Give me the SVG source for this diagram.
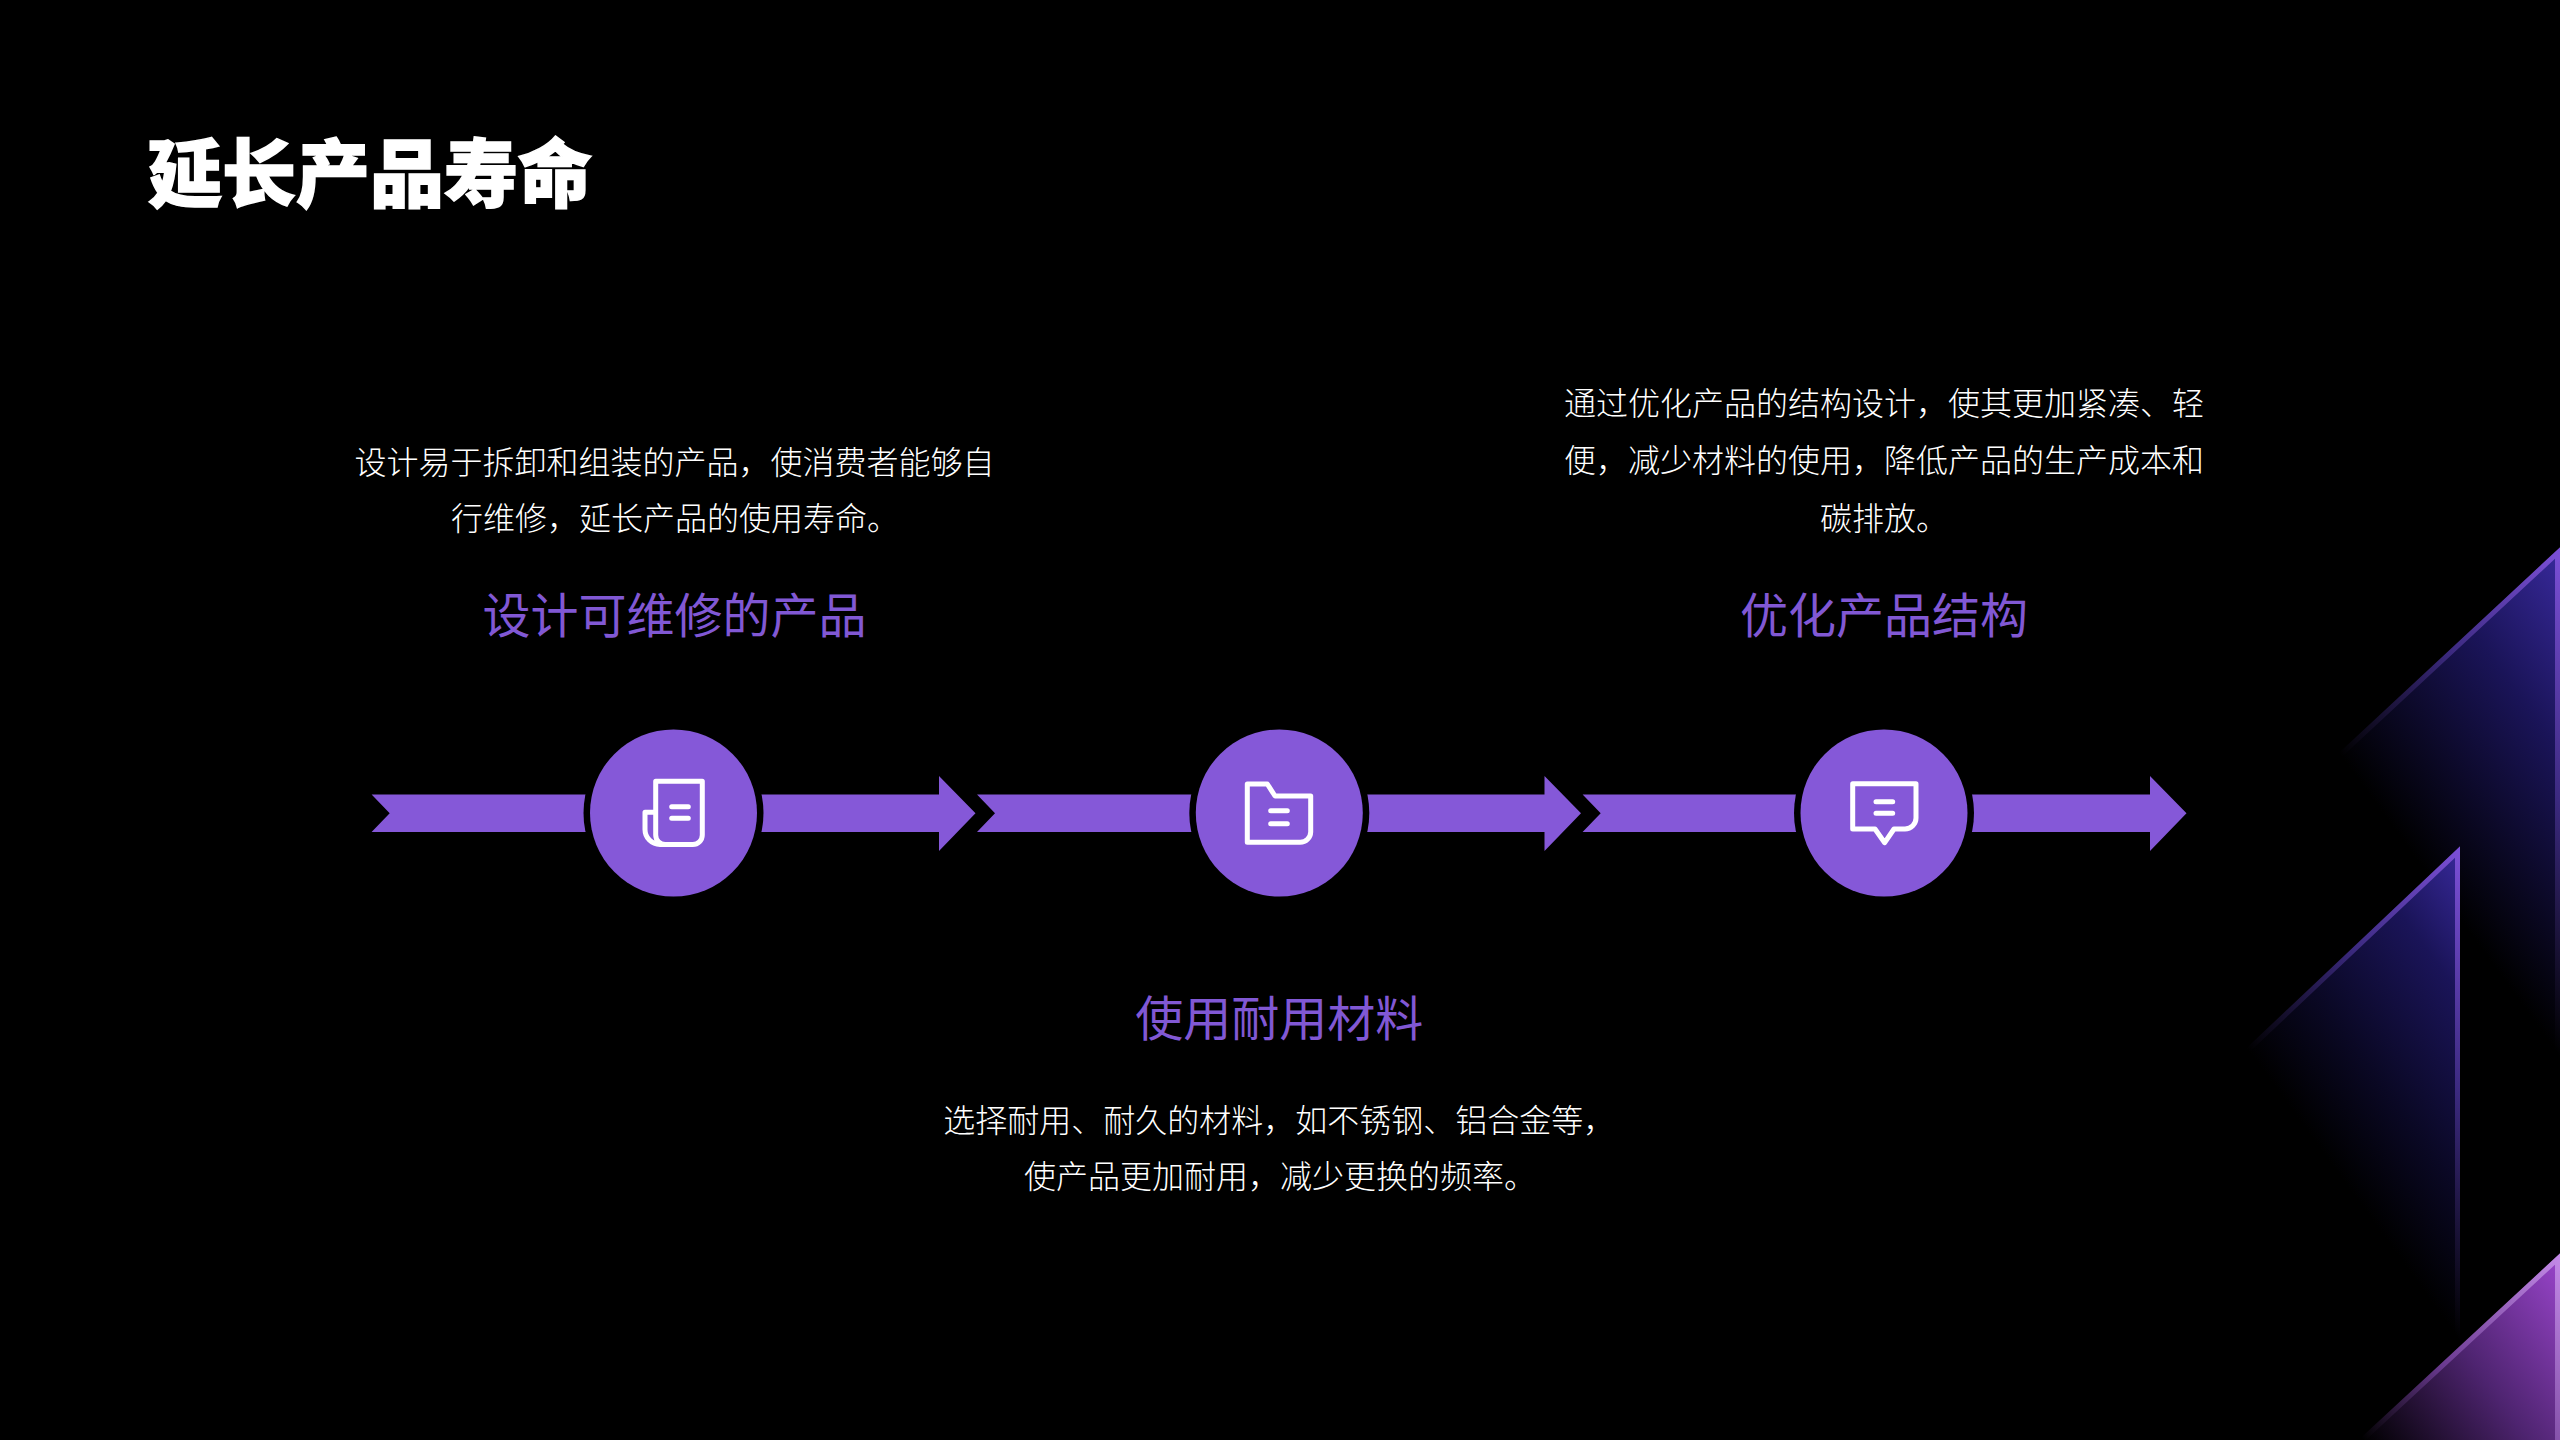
<svg xmlns="http://www.w3.org/2000/svg" width="2560" height="1440" viewBox="0 0 2560 1440">
<style>
text{font-family:"Noto Sans CJK SC","Liberation Serif",serif;text-anchor:middle}
.d{font-size:32px;fill:#fff;font-weight:300}
.h{font-size:48px;fill:#8158d4;font-weight:400}
.t{font-size:74px;fill:#fff;font-weight:900;stroke:#fff;stroke-width:1.5px}
.ar{fill:#8558d8}
.i{fill:none;stroke:#fff;stroke-width:5px;stroke-linecap:round;stroke-linejoin:round}
</style>
<defs>
<linearGradient id="f1" gradientUnits="userSpaceOnUse" x1="2560" y1="548" x2="2318" y2="724"><stop offset="0" stop-color="#38299c"/><stop offset=".4" stop-color="#1a1458"/><stop offset="1" stop-color="#000"/></linearGradient>
<linearGradient id="s1" gradientUnits="userSpaceOnUse" x1="2560" y1="548" x2="2318" y2="724"><stop offset="0" stop-color="#7c50d8"/><stop offset=".5" stop-color="#3c2a80"/><stop offset="1" stop-color="#000"/></linearGradient>
<linearGradient id="f2" gradientUnits="userSpaceOnUse" x1="2460" y1="847" x2="2225" y2="1018"><stop offset="0" stop-color="#38299c"/><stop offset=".3" stop-color="#1a1458"/><stop offset=".7" stop-color="#0a0824"/><stop offset="1" stop-color="#000"/></linearGradient>
<linearGradient id="s2" gradientUnits="userSpaceOnUse" x1="2460" y1="847" x2="2225" y2="1018"><stop offset="0" stop-color="#7c50d8"/><stop offset=".5" stop-color="#3c2a80"/><stop offset="1" stop-color="#000"/></linearGradient>
<linearGradient id="f3" gradientUnits="userSpaceOnUse" x1="2560" y1="1254" x2="2343" y2="1412"><stop offset="0" stop-color="#9a45cc"/><stop offset=".5" stop-color="#4e2470"/><stop offset="1" stop-color="#000"/></linearGradient>
<linearGradient id="s3" gradientUnits="userSpaceOnUse" x1="2560" y1="1254" x2="2343" y2="1412"><stop offset="0" stop-color="#c48ae8"/><stop offset=".6" stop-color="#6a3a90"/><stop offset="1" stop-color="#000"/></linearGradient>
</defs>
<rect width="2560" height="1440" fill="#000"/>
<g id="decor">
<polygon points="2560,548 2150,930 2150,1150 2560,1150" fill="url(#f1)"/>
<path d="M2557.5 1150V553L2150 932" fill="none" stroke="url(#s1)" stroke-width="5"/>
<polygon points="2460,847 2100,1188 2100,1440 2460,1440" fill="url(#f2)"/>
<path d="M2457.5 1440V852L2100 1190" fill="none" stroke="url(#s2)" stroke-width="5"/>
<polygon points="2560,1254 2360,1440 2560,1440" fill="url(#f3)"/>
<path d="M2557.5 1440V1259L2360 1442" fill="none" stroke="url(#s3)" stroke-width="5"/>
</g>
<g id="title"><text class="t" x="370" y="201">延长产品寿命</text></g>
<g id="connectors">
<path class="ar" id="arrow1" d="M371.6 794.5H680V832H371.6L389.7 813.2ZM680 794.5H939V776L975.5 813.2L939 851V832H680Z"/>
<path class="ar" id="arrow2" d="M977 794.5H1285V832H977L995 813.2ZM1285 794.5H1544.5V776L1581 813.2L1544.5 851V832H1285Z"/>
<path class="ar" id="arrow3" d="M1582.6 794.5H1890V832H1582.6L1600.7 813.2ZM1890 794.5H2150V776L2186.5 813.2L2150 851V832H1890Z"/>
</g>
<g id="node1">
<circle cx="673.5" cy="813" r="90" fill="#000"/><circle cx="673.5" cy="813" r="83.5" fill="#8558d8"/>
<path class="i" d="M655.7 835V781.3H702.3V835a9.5 9.5 0 0 1-9.5 9.5H660a15 15 0 0 1-15-15V812.3H655.7M655.7 835a9.5 9.5 0 0 0 9.5 9.5M671.7 806.7H688.3M671.7 818.3H688.3"/>
<text class="d" x="674.5" y="474">设计易于拆卸和组装的产品，使消费者能够自</text>
<text class="d" x="675" y="530">行维修，延长产品的使用寿命。</text>
<text class="h" x="674.5" y="633">设计可维修的产品</text>
</g>
<g id="node2">
<circle cx="1279.3" cy="813" r="90" fill="#000"/><circle cx="1279.3" cy="813" r="83.5" fill="#8558d8"/>
<path class="i" d="M1247.3 784H1267.3L1275 796H1310.7V832a10.5 10.5 0 0 1-10.5 10.3H1247.3ZM1270.7 810.7H1287.3M1270.7 823.7H1287.3"/>
<text class="h" x="1279.3" y="1036">使用耐用材料</text>
<text class="d" x="1279.3" y="1132">选择耐用、耐久的材料，如不锈钢、铝合金等，</text>
<text class="d" x="1280" y="1188">使产品更加耐用，减少更换的频率。</text>
</g>
<g id="node3">
<circle cx="1884" cy="813" r="90" fill="#000"/><circle cx="1884" cy="813" r="83.5" fill="#8558d8"/>
<path class="i" d="M1852.7 783.7H1916V818a11 11 0 0 1-11 11H1894L1884.7 842.7L1875 829H1852.7ZM1876 801.7H1892.7M1876 813.3H1892.7"/>
<text class="d" x="1884" y="415">通过优化产品的结构设计，使其更加紧凑、轻</text>
<text class="d" x="1884" y="472">便，减少材料的使用，降低产品的生产成本和</text>
<text class="d" x="1884" y="530">碳排放。</text>
<text class="h" x="1884" y="633">优化产品结构</text>
</g>
</svg>
